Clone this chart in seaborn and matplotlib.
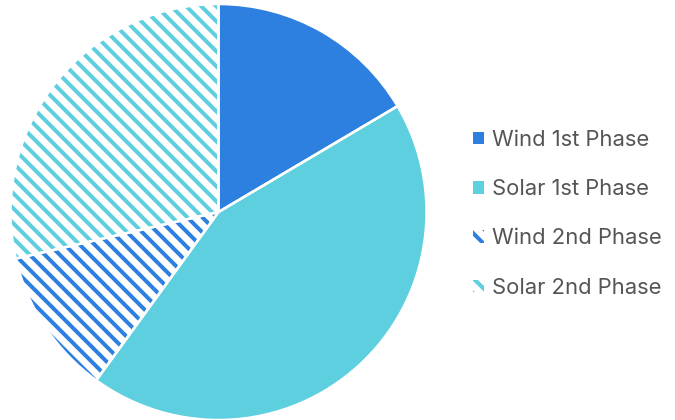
import matplotlib
matplotlib.use("Agg")
import matplotlib.pyplot as plt
from matplotlib.patches import Patch
import seaborn as sns

labels = ["Wind 1st Phase", "Solar 1st Phase", "Wind 2nd Phase", "Solar 2nd Phase"]
values = [16.5, 43.5, 11.4, 28.6]

sns.set_theme(style="white")
plt.rcParams['font.family'] = ['Inter', 'DejaVu Sans']
plt.rcParams['hatch.linewidth'] = 3.2

wind, solar = sns.color_palette(["#2d7fe0", "#5ecfdf"])
colors = [wind, solar, wind, solar]
hatches = [None, None, "\\\\", "\\\\"]

DPI = 90
fig = plt.figure(figsize=(675 / DPI, 420 / DPI), dpi=DPI)
ax = fig.add_axes([10.5 / 675, 0, 416 / 675, 416 / 420])

# filled / hatched wedges, hatch takes the edge colour
wedges, _ = ax.pie(values, startangle=90, counterclock=False, radius=1,
                   wedgeprops=dict(linewidth=0))
for w, c, h in zip(wedges, colors, hatches):
    if h:
        w.set_facecolor("white")
        w.set_edgecolor(c)
        w.set_hatch(h)
    else:
        w.set_facecolor(c)
        w.set_edgecolor(c)

# white separators on top
ax.pie(values, startangle=90, counterclock=False, radius=1,
       wedgeprops=dict(facecolor="none", edgecolor="white", linewidth=2))
ax.set_xlim(-1, 1)
ax.set_ylim(-1, 1)
ax.set_aspect("equal")
ax.axis("off")

handles = []
for c, h in zip(colors, hatches):
    if h:
        handles.append(Patch(facecolor="white", edgecolor=c, hatch=h, linewidth=0))
    else:
        handles.append(Patch(facecolor=c, edgecolor=c, linewidth=0))

leg = fig.legend(handles, labels, loc="center left", bbox_to_anchor=(473 / 675, 0.491),
                 frameon=False, fontsize=17.6, handlelength=0.5, handleheight=0.5,
                 handletextpad=0.35, labelspacing=1.33, borderpad=0, borderaxespad=0)
for t in leg.get_texts():
    t.set_color("#555555")

fig.savefig("out.png", dpi=DPI)
